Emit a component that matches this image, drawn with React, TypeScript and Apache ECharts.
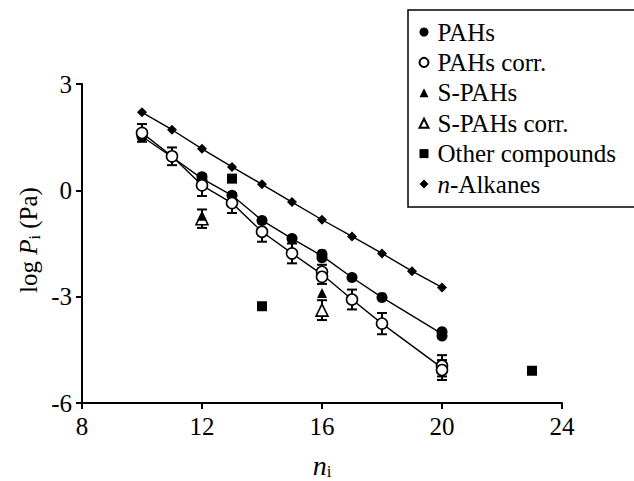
import React, { useEffect, useRef } from "react";
import * as echarts from "echarts";

const FONT = "Liberation Serif";

// PAHs (filled circles)
const pahX = [10, 11, 12, 12, 13, 14, 15, 16, 16, 17, 18, 20, 20];
const pahY = [1.52, 0.94, 0.38, 0.28, -0.14, -0.85, -1.36, -1.8, -1.9, -2.46, -3.02, -3.99, -4.11];
// PAHs line (per-n means)
const pahLineX = [10, 11, 12, 13, 14, 15, 16, 17, 18, 20];
const pahLineY = [1.52, 0.94, 0.33, -0.14, -0.85, -1.36, -1.85, -2.46, -3.02, -4.05];

// PAHs corr. (open circles) with errors
const corrX = [10, 11, 12, 13, 14, 15, 16, 16, 17, 18, 20, 20];
const corrY = [1.62, 0.96, 0.14, -0.36, -1.17, -1.78, -2.3, -2.44, -3.08, -3.76, -4.95, -5.07];
const corrErr = [0.25, 0.25, 0.3, 0.28, 0.28, 0.28, 0.2, 0.2, 0.28, 0.3, 0.3, 0.28];
const corrLineX = [10, 11, 12, 13, 14, 15, 16, 17, 18, 20];
const corrLineY = [1.62, 0.96, 0.14, -0.36, -1.17, -1.78, -2.37, -3.08, -3.76, -5.01];

// S-PAHs
const spahX = [12, 16];
const spahY = [-0.72, -2.9];
// S-PAHs corr.
const spahCorrX = [12, 16];
const spahCorrY = [-0.8, -3.38];
const spahCorrErr = [0.26, 0.28];

// Other compounds
const otherX = [13, 14, 23];
const otherY = [0.33, -3.27, -5.09];

// n-Alkanes
const alkX = [10, 11, 12, 13, 14, 15, 16, 17, 18, 19, 20];
const alkY = [2.2, 1.71, 1.17, 0.66, 0.17, -0.33, -0.83, -1.3, -1.78, -2.28, -2.74];

const xTicks = [8, 12, 16, 20, 24];
const yTicks = [-6, -3, 0, 3];

const zip = (xs: number[], ys: number[]) => xs.map((x, i) => [x, ys[i]]);
const errs = (xs: number[], ys: number[], es: number[]) =>
  xs.map((x, i) => [x, ys[i] - es[i], ys[i] + es[i]]);

export default function App() {
  const ref = useRef<HTMLDivElement>(null);
  useEffect(() => {
    if (!ref.current) return;
    const chart = echarts.init(ref.current, null, { renderer: "svg" });
    const black = "#000";
    const errSeries = (name: string, data: number[][]) => ({
      type: "custom",
      name,
      data,
      z: 2,
      encode: { x: 0, y: [1, 2] },
      renderItem: (params: any, api: any) => {
        const x = api.value(0);
        const lo = api.coord([x, api.value(1)]);
        const hi = api.coord([x, api.value(2)]);
        const w = 5;
        const st = { stroke: black, lineWidth: 2 };
        return {
          type: "group",
          children: [
            { type: "line", shape: { x1: lo[0], y1: lo[1], x2: hi[0], y2: hi[1] }, style: st },
            { type: "line", shape: { x1: lo[0] - w, y1: lo[1], x2: lo[0] + w, y2: lo[1] }, style: st },
            { type: "line", shape: { x1: hi[0] - w, y1: hi[1], x2: hi[0] + w, y2: hi[1] }, style: st },
          ],
        };
      },
    });
    const lineSeries = (name: string, data: number[][]) => ({
      type: "line",
      name,
      data,
      symbol: "none",
      z: 1,
      lineStyle: { color: black, width: 1.4 },
    });
    chart.setOption({
      animation: false,
      grid: { left: 82, right: 72, top: 84, bottom: 78 },
      xAxis: {
        type: "value",
        min: xTicks[0],
        max: xTicks[xTicks.length - 1],
        interval: 4,
        splitLine: { show: false },
        axisLine: { onZero: false, lineStyle: { color: black, width: 2 } },
        axisTick: { show: true, length: 6, lineStyle: { color: black, width: 2 } },
        axisLabel: { color: black, fontFamily: FONT, fontSize: 25, margin: 11 },
      },
      yAxis: {
        type: "value",
        min: yTicks[0],
        max: yTicks[yTicks.length - 1],
        interval: 3,
        splitLine: { show: false },
        axisLine: { onZero: false, lineStyle: { color: black, width: 2 } },
        axisTick: { show: true, length: 6, lineStyle: { color: black, width: 2 } },
        axisLabel: { color: black, fontFamily: FONT, fontSize: 25, margin: 10 },
      },
      legend: {
        data: ["PAHs", "PAHs corr.", "S-PAHs", "S-PAHs corr.", "Other compounds", "n-Alkanes"],
        orient: "vertical",
        left: 408,
        top: 10,
        itemWidth: 9,
        itemHeight: 9,
        itemGap: 4.4,
        padding: [9, 80, 10, 10.5],
        borderColor: black,
        borderWidth: 1.5,
        borderRadius: 0,
        textStyle: {
          color: black,
          fontFamily: FONT,
          fontSize: 25,
          lineHeight: 26,
          padding: [0, 0, 0, 4],
          rich: { i: { fontStyle: "italic", fontFamily: FONT, fontSize: 25, lineHeight: 26, color: black } },
        },
        formatter: (name: string) => (name === "n-Alkanes" ? "{i|n}-Alkanes" : name),
      },
      graphic: [
        {
          type: "text",
          x: 28,
          y: 240,
          rotation: Math.PI / 2,
          style: {
            text: "{n|log }{i|P}{s|i}{n| (Pa)}",
            align: "center",
            verticalAlign: "middle",
            fill: black,
            rich: {
              n: { fontFamily: FONT, fontSize: 25, lineHeight: 28, fill: black },
              i: { fontFamily: FONT, fontSize: 25, fontStyle: "italic", lineHeight: 28, fill: black },
              s: { fontFamily: FONT, fontSize: 16, lineHeight: 15, verticalAlign: "bottom", fill: black },
            },
          },
        },
        {
          type: "text",
          x: 322,
          y: 465,
          style: {
            text: "{i|n}{s|i}",
            align: "center",
            verticalAlign: "middle",
            fill: black,
            rich: {
              i: { fontFamily: FONT, fontSize: 28, fontStyle: "italic", lineHeight: 30, fill: black },
              s: { fontFamily: FONT, fontSize: 17, lineHeight: 15, verticalAlign: "bottom", fill: black },
            },
          },
        },
      ],
      series: [
        lineSeries("alkLine", zip(alkX, alkY)),
        lineSeries("pahLine", zip(pahLineX, pahLineY)),
        lineSeries("corrLine", zip(corrLineX, corrLineY)),
        errSeries("corrErr", errs(corrX, corrY, corrErr)),
        errSeries("spahErr", errs(spahCorrX, spahCorrY, spahCorrErr)),
        {
          type: "scatter",
          name: "PAHs",
          data: zip(pahX, pahY),
          symbol: "circle",
          symbolSize: 11,
          z: 3,
          itemStyle: { color: black, opacity: 1 },
        },
        {
          type: "scatter",
          name: "PAHs corr.",
          data: zip(corrX, corrY),
          symbol: "circle",
          symbolSize: 11,
          z: 4,
          itemStyle: { color: "#fff", borderColor: black, borderWidth: 1.6, opacity: 1 },
        },
        {
          type: "scatter",
          name: "S-PAHs corr.",
          data: zip(spahCorrX, spahCorrY),
          symbol: "triangle",
          symbolSize: 12,
          z: 3,
          itemStyle: { color: "#fff", borderColor: black, borderWidth: 1.6, opacity: 1 },
        },
        {
          type: "scatter",
          name: "S-PAHs",
          data: zip(spahX, spahY),
          symbol: "triangle",
          symbolSize: 10,
          z: 4,
          itemStyle: { color: black, opacity: 1 },
        },
        {
          type: "scatter",
          name: "Other compounds",
          data: zip(otherX, otherY),
          symbol: "rect",
          symbolSize: 10,
          z: 3,
          itemStyle: { color: black, opacity: 1 },
        },
        {
          type: "scatter",
          name: "n-Alkanes",
          data: zip(alkX, alkY),
          symbol: "diamond",
          symbolSize: 10,
          z: 3,
          itemStyle: { color: black, opacity: 1 },
        },
      ],
    });
    return () => chart.dispose();
  }, []);
  return (
    <div
      ref={ref}
      style={{ position: "fixed", left: 0, top: 0, width: 634, height: 481, background: "#fff" }}
    />
  );
}
